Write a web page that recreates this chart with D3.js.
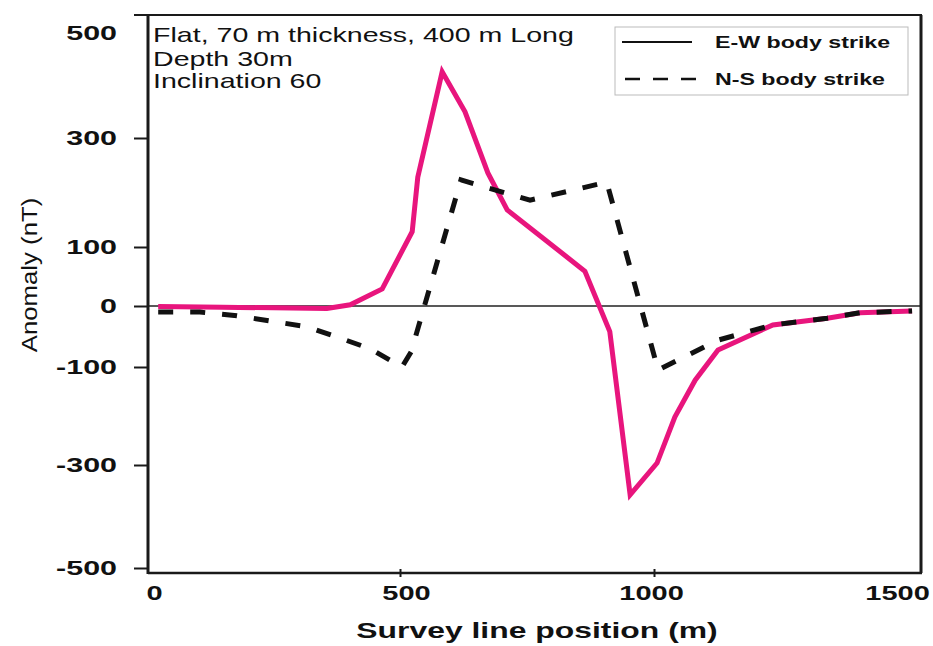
<!DOCTYPE html>
<html>
<head>
<meta charset="utf-8">
<script src="https://cdn.jsdelivr.net/npm/d3@7"></script>
<style>
  body { margin: 0; background: #fff; }
  text { font-family: "Liberation Sans", Arial, sans-serif; fill: #111; }
</style>
</head>
<body>
<div id="chart"></div>
<script>
// survey line positions (m) and anomaly values (nT)
const ewPos = [24, 150, 250, 356, 402, 465, 524, 535, 583, 628, 673, 711, 864, 913, 953, 1006, 1041, 1081, 1126, 1234, 1341, 1406, 1508];
const ewVal = [-1, -2, -3, -4, 2, 29, 128, 228, 426, 350, 236, 168, 59, -42, -358, -296, -202, -127, -72, -31, -20, -11, -8];

const nsPos = [24, 106, 179, 248, 317, 380, 441, 504, 522, 620, 756, 907, 1008, 1126, 1234, 1341, 1406, 1508];
const nsVal = [-10, -10, -16, -25, -34, -52, -70, -100, -75, 223, 186, 219, -106, -56, -31, -20, -11, -8];

const xTicks = [0, 500, 1000, 1500];
const yTicks = [-500, -300, -100, 0, 100, 300, 500];

const seriesNames = ["E-W body strike", "N-S body strike"];
const notes = ["Flat, 70 m thickness, 400 m Long", "Depth 30m", "Inclination 60"];

const width = 933, height = 646;
const plotL = 148, plotR = 921, plotT = 15, plotB = 573;
const SX = 1.45; // the picture is stretched sideways

const svg = d3.select('#chart').append('svg')
    .attr('width', width)
    .attr('height', height);

const x = d3.scaleLinear().domain([0, 1500]).range([146, 908]);
// the printed y axis is not evenly spaced
const y = d3.scaleLinear()
    .domain(yTicks)
    .range([568, 465, 367, 306, 247, 138, 33]);

// zero line
svg.append('line')
    .attr('x1', plotL).attr('x2', plotR)
    .attr('y1', y(0)).attr('y2', y(0))
    .attr('stroke', '#222').attr('stroke-width', 1.3);

const line = d3.line().x(d => x(d[0])).y(d => y(d[1]));

svg.append('path')
    .datum(d3.zip(ewPos, ewVal))
    .attr('d', line)
    .attr('fill', 'none')
    .attr('stroke', '#e8157d')
    .attr('stroke-width', 5);

svg.append('path')
    .datum(d3.zip(nsPos, nsVal))
    .attr('d', line)
    .attr('fill', 'none')
    .attr('stroke', '#111')
    .attr('stroke-width', 5)
    .attr('stroke-dasharray', '15,17');

// frame
const frame = svg.append('g').attr('stroke', '#1a1a1a');
frame.append('line').attr('x1', plotL).attr('x2', plotL).attr('y1', plotT).attr('y2', plotB + 1).attr('stroke-width', 3);
frame.append('line').attr('x1', plotL).attr('x2', plotR + 1).attr('y1', plotB).attr('y2', plotB).attr('stroke-width', 2.5);
frame.append('line').attr('x1', plotR).attr('x2', plotR).attr('y1', plotT).attr('y2', plotB).attr('stroke-width', 3);
frame.append('line').attr('x1', 134).attr('x2', plotR + 1).attr('y1', plotT).attr('y2', plotT).attr('stroke-width', 2);

// y axis
const gY = svg.append('g')
    .attr('transform', `translate(${plotL},0)`)
    .call(d3.axisLeft(y).tickValues(yTicks).tickSize(14).tickFormat(d => String(d)));
gY.select('.domain').remove();
gY.selectAll('.tick line').attr('stroke', '#1a1a1a').attr('stroke-width', 2)
    .filter(d => d === 500).remove();
gY.selectAll('.tick text')
    .attr('x', -31 / SX)
    .attr('transform', `scale(${SX},1)`)
    .attr('font-size', 21)
    .attr('font-weight', 'bold')
    .style('font-family', '"Liberation Sans", Arial, sans-serif')
    .attr('fill', '#111');

// x axis
const xNudge = { 0: 8, 500: 6, 1000: -3, 1500: -11 };
const gX = svg.append('g')
    .attr('transform', `translate(0,${plotB})`)
    .call(d3.axisBottom(x).tickValues(xTicks).tickSize(0).tickFormat(d => String(d)));
gX.select('.domain').remove();
gX.selectAll('.tick line')
    .attr('y1', -4).attr('y2', 4)
    .attr('stroke', '#1a1a1a').attr('stroke-width', 2)
    .filter(d => d === 0 || d === 1500).remove();
gX.selectAll('.tick text')
    .attr('x', d => xNudge[d] / SX)
    .attr('y', 27).attr('dy', 0)
    .attr('transform', `scale(${SX},1)`)
    .attr('font-size', 20)
    .attr('font-weight', 'bold')
    .style('font-family', '"Liberation Sans", Arial, sans-serif')
    .attr('fill', '#111');

// axis titles
svg.append('text')
    .attr('transform', `translate(537,638) scale(${SX},1)`)
    .attr('text-anchor', 'middle')
    .attr('font-size', 22)
    .attr('font-weight', 'bold')
    .text('Survey line position (m)');

svg.append('text')
    .attr('transform', 'translate(37,275) rotate(-90) scale(1.12,1)')
    .attr('text-anchor', 'middle')
    .attr('font-size', 23)
    .text('Anomaly (nT)');

// notes
notes.forEach((t, i) => {
    svg.append('text')
        .attr('transform', `translate(153,${[42, 66, 88][i]}) scale(1.43,1)`)
        .attr('font-size', 20)
        .text(t);
});

// legend
const lg = svg.append('g');
lg.append('rect')
    .attr('x', 615).attr('y', 27).attr('width', 293).attr('height', 68)
    .attr('fill', '#fff').attr('stroke', '#bbb').attr('stroke-width', 1);
lg.append('line')
    .attr('x1', 622).attr('x2', 692).attr('y1', 42).attr('y2', 42)
    .attr('stroke', '#111').attr('stroke-width', 2);
lg.append('line')
    .attr('x1', 625).attr('x2', 697).attr('y1', 79).attr('y2', 79)
    .attr('stroke', '#111').attr('stroke-width', 2.5)
    .attr('stroke-dasharray', '15,13');
seriesNames.forEach((t, i) => {
    lg.append('text')
        .attr('transform', `translate(715,${[48, 85][i]}) scale(${SX},1)`)
        .attr('font-size', 16)
        .attr('font-weight', 'bold')
        .text(t);
});
</script>
</body>
</html>
